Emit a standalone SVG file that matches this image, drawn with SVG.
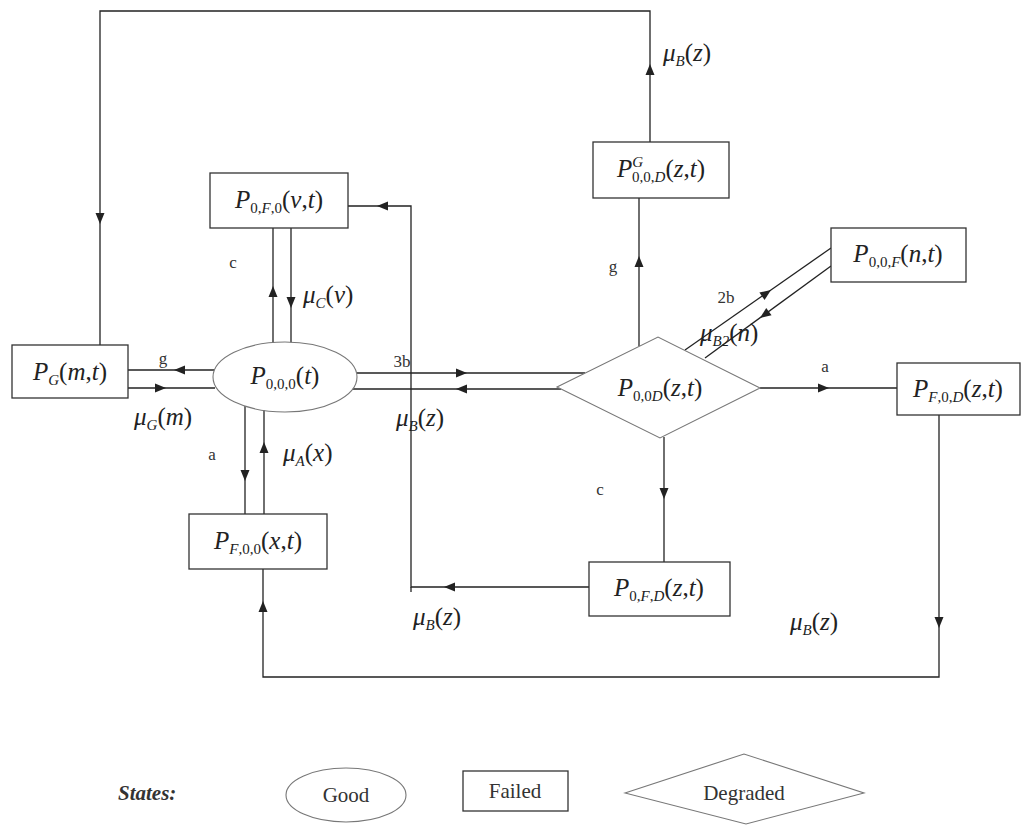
<svg xmlns="http://www.w3.org/2000/svg" xmlns:xlink="http://www.w3.org/1999/xlink" width="1027" height="827" viewBox="0 0 1027 827">
<defs>
<style>
.bg{fill:#ffffff}
.box{fill:#ffffff;stroke:#333;stroke-width:1.3}
.soft{fill:#ffffff;stroke:#777;stroke-width:1.1}
.ln{fill:none;stroke:#222;stroke-width:1.3}
.lbl{font-family:"Liberation Serif","Times New Roman",serif;font-size:25px;font-style:italic;fill:#222}
.sub{font-size:15px}
.sm{font-family:"Liberation Serif","Times New Roman",serif;font-size:17px;fill:#333}
.leg{font-family:"Liberation Serif","Times New Roman",serif;font-size:21px;fill:#333}
</style>
<path id="ah" d="M0,0 L-11,-4.5 L-11,4.5 Z" fill="#222"/>
</defs>
<rect class="bg" x="0" y="0" width="1027" height="827"/>

<g id="connectors">
  <!-- P^G -> P_G (top loop) -->
  <polyline class="ln" points="650,142 650,11 100,11 100,345"/>
  <use xlink:href="#ah" transform="translate(650,64) rotate(270)"/>
  <use xlink:href="#ah" transform="translate(100,224) rotate(90)"/>
  <!-- P000 <-> P0F0 -->
  <line class="ln" x1="273" y1="228" x2="273" y2="343"/>
  <use xlink:href="#ah" transform="translate(273,286) rotate(270)"/>
  <line class="ln" x1="291" y1="228" x2="291" y2="343"/>
  <use xlink:href="#ah" transform="translate(291,308) rotate(90)"/>
  <!-- P000 <-> PG -->
  <line class="ln" x1="128" y1="370" x2="215" y2="370"/>
  <use xlink:href="#ah" transform="translate(174,370) rotate(180)"/>
  <line class="ln" x1="128" y1="388" x2="215" y2="388"/>
  <use xlink:href="#ah" transform="translate(166,388)"/>
  <!-- P000 <-> P00D -->
  <line class="ln" x1="357" y1="373" x2="585" y2="373"/>
  <use xlink:href="#ah" transform="translate(467,373)"/>
  <line class="ln" x1="352" y1="389" x2="561" y2="389"/>
  <use xlink:href="#ah" transform="translate(456,389) rotate(180)"/>
  <!-- P0FD -> P0F0 -->
  <polyline class="ln" points="589,587 411,587 411,206 348,206"/>
  <line class="ln" x1="411" y1="587" x2="411" y2="592"/>
  <use xlink:href="#ah" transform="translate(444,587) rotate(180)"/>
  <use xlink:href="#ah" transform="translate(377,206) rotate(180)"/>
  <!-- P000 <-> PF00 -->
  <line class="ln" x1="245" y1="406" x2="245" y2="514"/>
  <use xlink:href="#ah" transform="translate(245,481) rotate(90)"/>
  <line class="ln" x1="264" y1="410" x2="264" y2="514"/>
  <use xlink:href="#ah" transform="translate(264,442) rotate(270)"/>
  <!-- P00D -> P^G -->
  <line class="ln" x1="639" y1="346" x2="639" y2="198"/>
  <use xlink:href="#ah" transform="translate(639,256) rotate(270)"/>
  <!-- P00D <-> P00F -->
  <line class="ln" x1="685" y1="350" x2="831" y2="248"/>
  <use xlink:href="#ah" transform="translate(771,290) rotate(-34.9)"/>
  <line class="ln" x1="705" y1="358" x2="831" y2="266"/>
  <use xlink:href="#ah" transform="translate(760,318) rotate(143.9)"/>
  <!-- P00D -> PF0D -->
  <line class="ln" x1="760" y1="388" x2="897" y2="388"/>
  <use xlink:href="#ah" transform="translate(829,388)"/>
  <!-- P00D -> P0FD -->
  <line class="ln" x1="664" y1="437" x2="664" y2="562"/>
  <use xlink:href="#ah" transform="translate(664,499) rotate(90)"/>
  <!-- PF0D -> PF00 -->
  <polyline class="ln" points="939,415 939,677 263,677 263,569"/>
  <use xlink:href="#ah" transform="translate(939,628) rotate(90)"/>
  <use xlink:href="#ah" transform="translate(263,601) rotate(270)"/>
</g>

<g id="node-PG">
  <rect class="box" x="12" y="345" width="116" height="53"/>
  <text class="lbl" x="70" y="380" text-anchor="middle">P<tspan class="sub" dy="5">G</tspan><tspan dy="-5" font-style="normal">(</tspan>m<tspan font-style="normal">,</tspan>t<tspan font-style="normal">)</tspan></text>
</g>
<g id="node-P0F0">
  <rect class="box" x="210" y="173" width="138" height="55"/>
  <text class="lbl" x="279" y="208" text-anchor="middle">P<tspan class="sub" dy="5" font-style="normal">0,<tspan font-style="italic">F</tspan>,0</tspan><tspan dy="-5" font-style="normal">(</tspan>v<tspan font-style="normal">,</tspan>t<tspan font-style="normal">)</tspan></text>
</g>
<g id="node-P000">
  <ellipse class="soft" cx="285" cy="377" rx="72" ry="35"/>
  <text class="lbl" x="285" y="384" text-anchor="middle">P<tspan class="sub" dy="5" font-style="normal">0,0,0</tspan><tspan dy="-5" font-style="normal">(</tspan>t<tspan font-style="normal">)</tspan></text>
</g>
<g id="node-PF00">
  <rect class="box" x="189" y="514" width="138" height="55"/>
  <text class="lbl" x="258" y="549" text-anchor="middle">P<tspan class="sub" dy="5"><tspan>F</tspan><tspan font-style="normal">,0,0</tspan></tspan><tspan dy="-5" font-style="normal">(</tspan>x<tspan font-style="normal">,</tspan>t<tspan font-style="normal">)</tspan></text>
</g>
<g id="node-PG00D">
  <rect class="box" x="593" y="142" width="136" height="56"/>
  <text class="lbl" x="661" y="177" text-anchor="middle">P<tspan class="sub" dy="-10">G</tspan><tspan class="sub" dx="-11" dy="15" font-style="normal">0,0,<tspan font-style="italic">D</tspan></tspan><tspan dy="-5" font-style="normal">(</tspan>z<tspan font-style="normal">,</tspan>t<tspan font-style="normal">)</tspan></text>
</g>
<g id="node-P00F">
  <rect class="box" x="831" y="228" width="135" height="54"/>
  <text class="lbl" x="898" y="262" text-anchor="middle">P<tspan class="sub" dy="5" font-style="normal">0,0,<tspan font-style="italic">F</tspan></tspan><tspan dy="-5" font-style="normal">(</tspan>n<tspan font-style="normal">,</tspan>t<tspan font-style="normal">)</tspan></text>
</g>
<g id="node-P00D">
  <polygon class="soft" points="557,387 658,337 760,388 660,438"/>
  <text class="lbl" x="660" y="396" text-anchor="middle">P<tspan class="sub" dy="5" font-style="normal">0,0<tspan font-style="italic">D</tspan></tspan><tspan dy="-5" font-style="normal">(</tspan>z<tspan font-style="normal">,</tspan>t<tspan font-style="normal">)</tspan></text>
</g>
<g id="node-PF0D">
  <rect class="box" x="897" y="363" width="123" height="52"/>
  <text class="lbl" x="958" y="397" text-anchor="middle">P<tspan class="sub" dy="5"><tspan>F</tspan><tspan font-style="normal">,0,</tspan><tspan>D</tspan></tspan><tspan dy="-5" font-style="normal">(</tspan>z<tspan font-style="normal">,</tspan>t<tspan font-style="normal">)</tspan></text>
</g>
<g id="node-P0FD">
  <rect class="box" x="589" y="562" width="141" height="54"/>
  <text class="lbl" x="659" y="596" text-anchor="middle">P<tspan class="sub" dy="5" font-style="normal">0,<tspan font-style="italic">F</tspan>,<tspan font-style="italic">D</tspan></tspan><tspan dy="-5" font-style="normal">(</tspan>z<tspan font-style="normal">,</tspan>t<tspan font-style="normal">)</tspan></text>
</g>

<g id="labels">
  <text class="sm" x="233" y="268" text-anchor="middle">c</text>
  <text class="lbl" x="303" y="303">μ<tspan class="sub" dy="5">C</tspan><tspan dy="-5" font-style="normal">(</tspan>v<tspan font-style="normal">)</tspan></text>
  <text class="sm" x="163" y="364" text-anchor="middle">g</text>
  <text class="lbl" x="134" y="425">μ<tspan class="sub" dy="5">G</tspan><tspan dy="-5" font-style="normal">(</tspan>m<tspan font-style="normal">)</tspan></text>
  <text class="sm" x="402" y="367" text-anchor="middle">3b</text>
  <text class="lbl" x="396" y="426">μ<tspan class="sub" dy="5">B</tspan><tspan dy="-5" font-style="normal">(</tspan>z<tspan font-style="normal">)</tspan></text>
  <text class="sm" x="212" y="460" text-anchor="middle">a</text>
  <text class="lbl" x="283" y="461">μ<tspan class="sub" dy="5">A</tspan><tspan dy="-5" font-style="normal">(</tspan>x<tspan font-style="normal">)</tspan></text>
  <text class="sm" x="613" y="272" text-anchor="middle">g</text>
  <text class="lbl" x="663" y="61">μ<tspan class="sub" dy="5">B</tspan><tspan dy="-5" font-style="normal">(</tspan>z<tspan font-style="normal">)</tspan></text>
  <text class="sm" x="726" y="303" text-anchor="middle">2b</text>
  <text class="lbl" x="700" y="341">μ<tspan class="sub" dy="5">B2</tspan><tspan dy="-5" font-style="normal">(</tspan>n<tspan font-style="normal">)</tspan></text>
  <text class="sm" x="825" y="372" text-anchor="middle">a</text>
  <text class="sm" x="600" y="495" text-anchor="middle">c</text>
  <text class="lbl" x="413" y="625">μ<tspan class="sub" dy="5">B</tspan><tspan dy="-5" font-style="normal">(</tspan>z<tspan font-style="normal">)</tspan></text>
  <text class="lbl" x="790" y="630">μ<tspan class="sub" dy="5">B</tspan><tspan dy="-5" font-style="normal">(</tspan>z<tspan font-style="normal">)</tspan></text>
</g>

<g id="legend">
  <text class="leg" x="118" y="800" font-style="italic" font-weight="bold">States:</text>
  <g id="legend-good">
    <ellipse class="soft" cx="346" cy="795" rx="60" ry="27"/>
    <text class="leg" x="346" y="802" text-anchor="middle">Good</text>
  </g>
  <g id="legend-failed">
    <rect class="box" x="463" y="771" width="105" height="40"/>
    <text class="leg" x="515" y="798" text-anchor="middle">Failed</text>
  </g>
  <g id="legend-degraded">
    <polygon class="soft" points="625,793 744,754 864,793 746,824"/>
    <text class="leg" x="744" y="800" text-anchor="middle">Degraded</text>
  </g>
</g>
</svg>
